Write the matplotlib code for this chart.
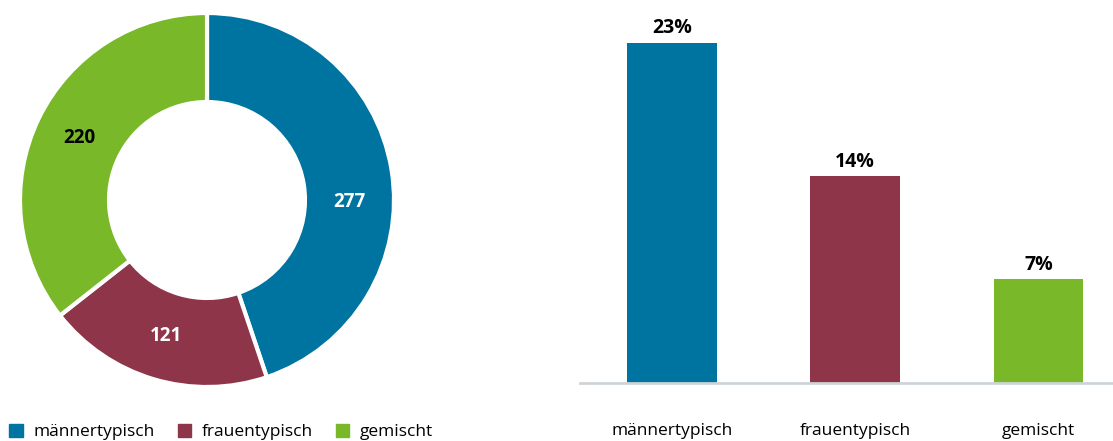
import numpy as np
import matplotlib
matplotlib.use('Agg')
import matplotlib.pyplot as plt
from matplotlib.patches import Rectangle

plt.rcParams['font.family'] = ['Open Sans', 'DejaVu Sans']

# Data
categories = ['männertypisch', 'frauentypisch', 'gemischt']
counts = [277, 121, 220]
shares = [23, 14, 7]
colors = ['#0074a0', '#8e3549', '#79b829']
count_label_colors = ['white', 'white', 'black']

W, H = 1113, 441
fig = plt.figure(figsize=(W / 100, H / 100), dpi=100)


def px_box(x0, y0, x1, y1):
    # pixel box (top-left origin) -> figure fraction rect
    return [x0 / W, (H - y1) / H, (x1 - x0) / W, (y1 - y0) / H]


# Donut chart
ax1 = fig.add_axes(px_box(20, 13, 394, 387))
wedges, _ = ax1.pie(counts, colors=colors, startangle=90, counterclock=False, radius=1,
                    wedgeprops=dict(width=0.476, edgecolor='white', linewidth=3))
ax1.set_xlim(-1, 1)
ax1.set_ylim(-1, 1)
ax1.set_aspect('equal')
ax1.axis('off')

# labels at middle of ring
label_shift = [-10, 0, 0]  # degrees, small nudges
for w, c, tc, sh in zip(wedges, counts, count_label_colors, label_shift):
    ang = np.deg2rad((w.theta1 + w.theta2) / 2 + sh)
    r = 0.76
    ax1.text(r * np.cos(ang), r * np.sin(ang), str(c), ha='center', va='center',
             fontsize=13.5, fontweight='bold', color=tc)

# Legend
leg_handles = [Rectangle((0, 0), 1, 1, color=c) for c in colors]
fig.legend(leg_handles, categories, loc='lower left', bbox_to_anchor=(-0.004, -0.03),
           ncol=3, frameon=False, fontsize=12.5, handlelength=0.8, handleheight=0.8,
           handletextpad=0.6, columnspacing=1.3, borderpad=0.3)

# Bar chart
ax2 = fig.add_axes(px_box(580, 13, 1113, 383))
x = np.arange(len(categories))
ax2.bar(x, shares, width=0.49, color=colors, zorder=2)
ax2.set_xlim(-0.503, 2.407)
ax2.set_ylim(0, 25)
for xi, s in zip(x, shares):
    ax2.annotate(f'{s}%', (xi, s), xytext=(0, 3), textcoords='offset points',
                 ha='center', va='bottom', fontsize=14, fontweight='bold')
for side in ['top', 'right', 'left']:
    ax2.spines[side].set_visible(False)
ax2.spines['bottom'].set_color('#cdd4d7')
ax2.spines['bottom'].set_linewidth(2)
ax2.set_yticks([])
ax2.set_xticks(x)
ax2.set_xticklabels(categories, fontsize=12.5)
ax2.tick_params(axis='x', length=0, pad=29)

fig.savefig('out.png', dpi=100)
